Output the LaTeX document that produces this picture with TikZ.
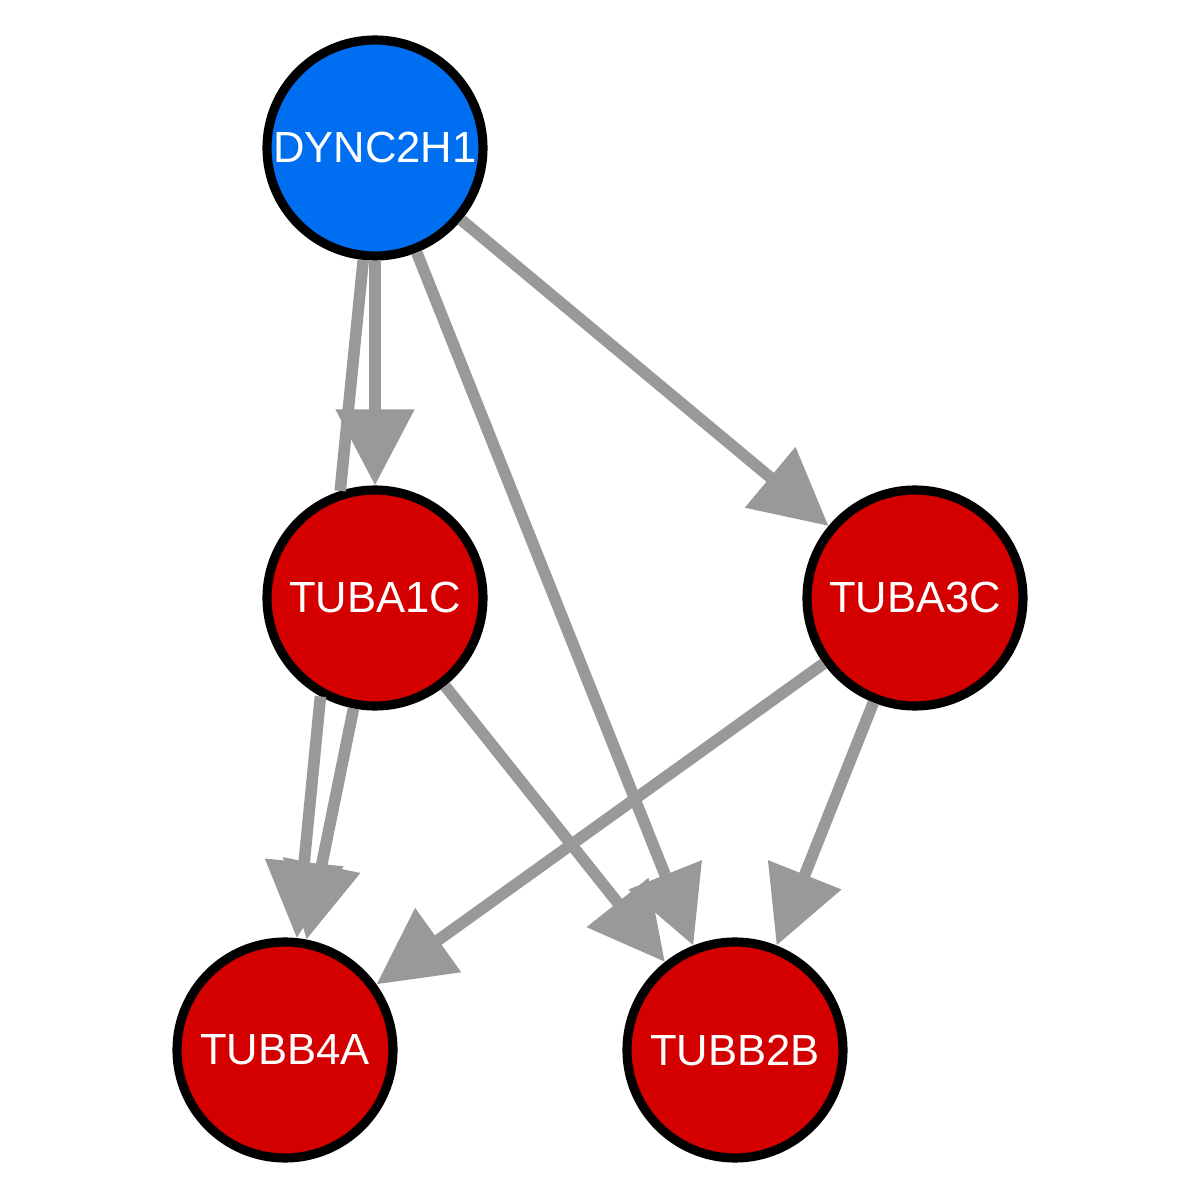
\documentclass[tikz,border=0pt]{standalone}
\usepackage{fontspec}
\setmainfont{Liberation Sans}
\usetikzlibrary{arrows.meta}
\definecolor{dynblue}{RGB}{0,110,240}
\definecolor{tubred}{RGB}{212,0,0}
\definecolor{edgegray}{RGB}{153,153,153}

\begin{document}
\begin{tikzpicture}[
    gene/.style={draw, circle, line width=2.6pt, minimum size=2.16cm, inner sep=0pt,
        text=white, font=\fontsize{12.4}{14}\selectfont},
    link/.style={draw=edgegray, line width=3.3pt},
    arc/.style={link, -{Triangle[length=0.76cm, width=0.76cm]}, edgegray}
]
            \useasboundingbox (0, 0) rectangle (12, 12);

            \node[gene, fill=dynblue] (n0) at (3.75, 10.52) {DYNC2H1};
            \node[gene, fill=tubred] (n1) at (3.75, 6.02) {TUBA1C};
            \node[gene, fill=tubred] (n2) at (9.15, 6.02) {TUBA3C};
            \node[gene, fill=tubred] (n3) at (2.85, 1.50) {TUBB4A};
            \node[gene, fill=tubred] (n4) at (7.35, 1.50) {TUBB2B};

            \draw[link] (n0.264) -- (n1.108);
            \draw[arc] (n0) -- (n1);
            \draw[arc] (n0) -- (n2);
            \draw[arc] (n0) -- (n4);
            \draw[arc] (n1.241) -- (n3.84);
            \draw[arc] (n1.259) -- (n3.79);
            \draw[arc] (n1) -- (n4);
            \draw[arc] (n2) -- (n3);
            \draw[arc] (n2) -- (n4);
    	\end{tikzpicture}
\end{document}
